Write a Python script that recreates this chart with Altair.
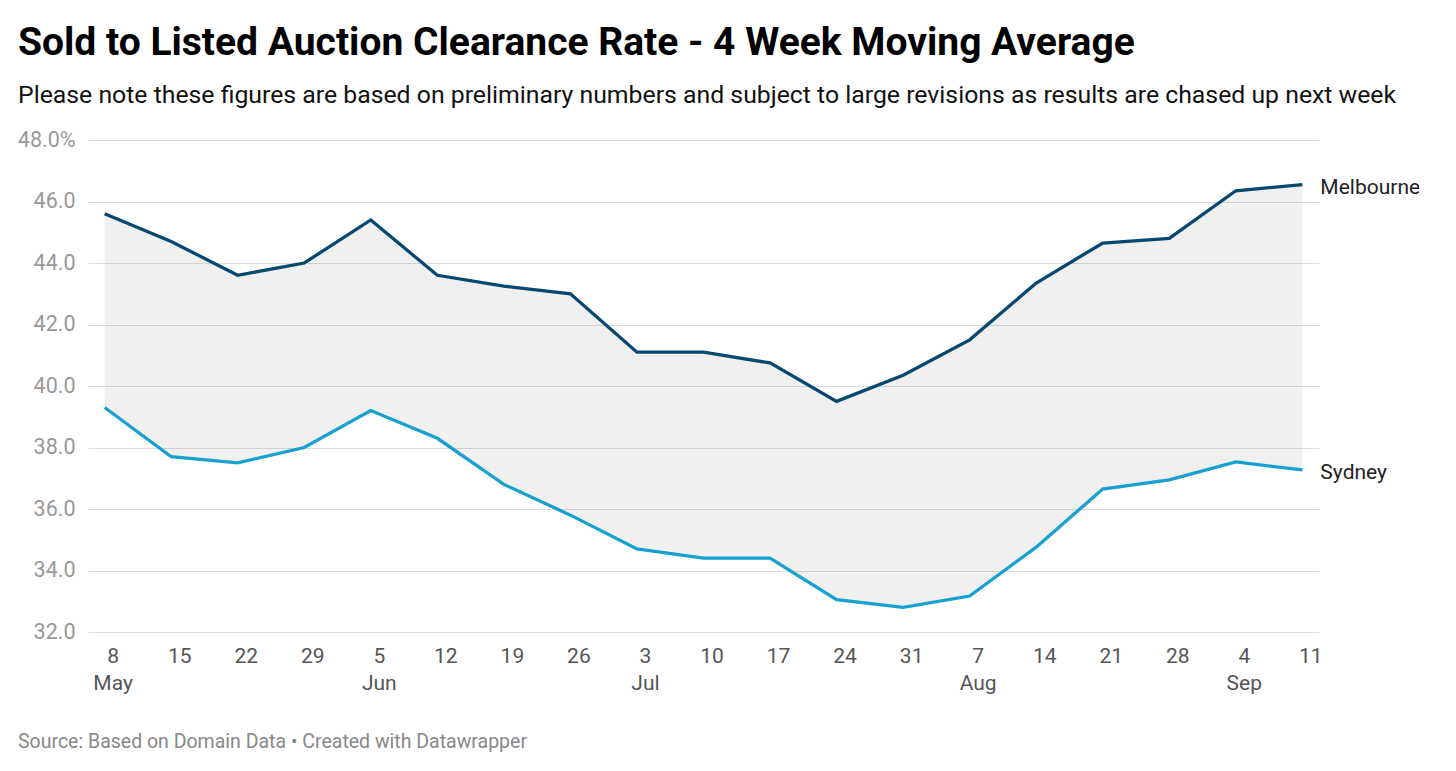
import altair as alt
import pandas as pd

days = ["8", "15", "22", "29", "5", "12", "19", "26", "3", "10", "17", "24", "31", "7", "14", "21", "28", "4", "11"]
months = ["May", "", "", "", "Jun", "", "", "", "Jul", "", "", "", "", "Aug", "", "", "", "Sep", ""]
melbourne = [45.6, 44.7, 43.6, 44.0, 45.4, 43.6, 43.25, 43.0, 41.1, 41.1, 40.75, 39.5, 40.35, 41.5, 43.35, 44.65, 44.8, 46.35, 46.55]
sydney = [39.3, 37.7, 37.5, 38.0, 39.2, 38.3, 36.8, 35.8, 34.7, 34.4, 34.4, 33.05, 32.8, 33.17, 34.76, 36.65, 36.95, 37.53, 37.27]
y_ticks = [32, 34, 36, 38, 40, 42, 44, 46, 48]

title = "Sold to Listed Auction Clearance Rate - 4 Week Moving Average"
subtitle = "Please note these figures are based on preliminary numbers and subject to large revisions as results are chased up next week"
footer = "Source: Based on Domain Data • Created with Datawrapper"

keys = [f"{d}|{m}" for d, m in zip(days, months)]
df = pd.DataFrame({"key": keys, "Melbourne": melbourne, "Sydney": sydney})
long = pd.concat([
    pd.DataFrame({"key": keys, "city": "Melbourne", "value": melbourne}),
    pd.DataFrame({"key": keys, "city": "Sydney", "value": sydney}),
])
last = long[long["key"] == keys[-1]]

FONT = "Roboto"
W, H = 1231, 492

x_enc = alt.X(
    "key:O", sort=keys,
    scale=alt.Scale(type="point", padding=0.25),
    axis=alt.Axis(
        labelExpr="split(datum.value, '|')", labelAngle=0, ticks=False, domain=False,
        grid=False, labelPadding=13, labelFontSize=21, labelColor="#555555",
        labelFont=FONT, labelLineHeight=27, tickOffset=8, title=None, labelBaseline="top",
    ),
)
y_scale = alt.Scale(domain=[32, 48], nice=False, zero=False)

area = alt.Chart(df).mark_area(color="#000000", opacity=0.06).encode(
    x=x_enc,
    y=alt.Y(
        "Melbourne:Q", scale=y_scale,
        axis=alt.Axis(
            values=y_ticks,
            labelExpr="datum.value == 48 ? format(datum.value, '.1f') + '%' : format(datum.value, '.1f')",
            ticks=False, domain=False, gridColor="#dddddd", gridWidth=1,
            labelColor="#999999", labelFontSize=21.5, labelFont=FONT, labelPadding=13, title=None,
        ),
    ),
    y2="Sydney:Q",
)

color_scale = alt.Scale(domain=["Melbourne", "Sydney"], range=["#074870", "#17a0d0"])

lines = alt.Chart(long).mark_line(strokeWidth=3.3).encode(
    x=alt.X("key:O", sort=keys),
    y=alt.Y("value:Q", scale=y_scale),
    color=alt.Color("city:N", scale=color_scale, legend=None),
)

labels = alt.Chart(last).mark_text(
    align="left", baseline="middle", dx=18, dy=3, fontSize=21, font=FONT, color="#222222"
).encode(
    x=alt.X("key:O", sort=keys),
    y=alt.Y("value:Q", scale=y_scale),
    text="city:N",
)

foot = alt.Chart(pd.DataFrame({"t": [footer]})).mark_text(
    align="left", baseline="alphabetic", fontSize=19.5, font=FONT, color="#888888"
).encode(x=alt.value(-70), y=alt.value(608), text="t:N")

chart = alt.layer(area, lines, labels, foot).properties(
    width=W, height=H,
    autosize=alt.AutoSizeParams(type="none"),
    padding={"left": 80, "top": 132, "right": 100, "bottom": 130},
    title=alt.TitleParams(
        text=title, subtitle=subtitle, anchor="start", frame="group", dx=-70, offset=21,
        font=FONT, fontSize=39, fontWeight="bold", color="#000000",
        subtitleFont=FONT, subtitleFontSize=24.8, subtitleColor="#111111", subtitlePadding=20,
    ),
).configure_view(stroke=None)

chart.save("out.html", embed_options={"renderer": "svg", "actions": False})
